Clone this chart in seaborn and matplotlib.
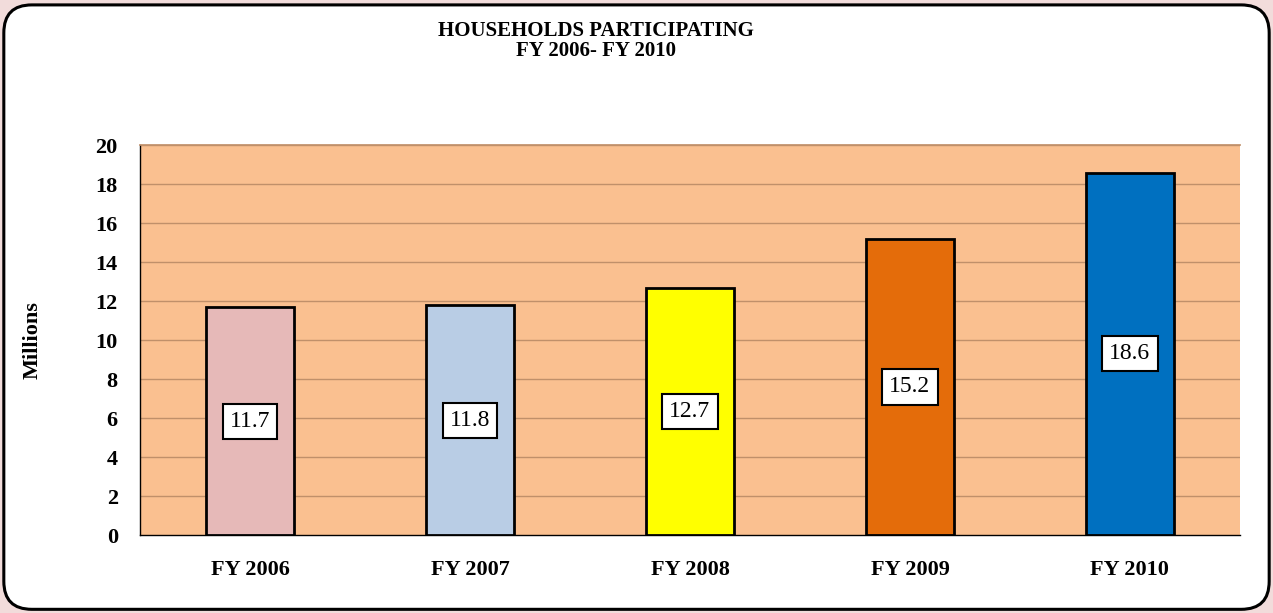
import matplotlib
matplotlib.use("Agg")
import matplotlib.pyplot as plt
import seaborn as sns
import pandas as pd
import numpy as np
from matplotlib.patches import FancyBboxPatch

categories = ["FY 2006", "FY 2007", "FY 2008", "FY 2009", "FY 2010"]
values = [11.7, 11.8, 12.7, 15.2, 18.6]
bar_colors = ["#e6b9b8", "#b9cde5", "#ffff00", "#e46c0a", "#0070c0"]
yticks = [0, 2, 4, 6, 8, 10, 12, 14, 16, 18, 20]

sns.set_theme(style="white")
plt.rcParams['font.family'] = ['Liberation Serif', 'DejaVu Serif']
plt.rcParams['text.color'] = 'black'
plt.rcParams['xtick.labelcolor'] = 'black'
plt.rcParams['ytick.labelcolor'] = 'black'
plt.rcParams['axes.labelcolor'] = 'black'

fig = plt.figure(figsize=(12.73, 6.13), dpi=100)
fig.patch.set_facecolor("#f2dcdb")
box = FancyBboxPatch((0.003, 0.006), 0.994, 0.986,
                     boxstyle="round,pad=0,rounding_size=0.022",
                     transform=fig.transFigure, facecolor="white",
                     edgecolor="black", linewidth=2.2, mutation_aspect=1273/613,
                     zorder=-10)
fig.add_artist(box)

ax = fig.add_axes([0.110, 0.127, 0.864, 0.636])
ax.set_zorder(5)
ax.set_facecolor("#fac090")

df = pd.DataFrame({"cat": categories, "val": values})
sns.barplot(data=df, x="cat", y="val", hue="cat", palette=bar_colors,
            saturation=1, width=0.4, edgecolor="black", linewidth=2,
            legend=False, ax=ax, zorder=3)

ax.set_ylim(0, 20)
ax.set_xlim(-0.5, 4.5)
ax.set_yticks(yticks)
ax.set_yticklabels([str(t) for t in yticks], fontsize=16, fontweight="bold")
ax.set_xticks(range(len(categories)))
ax.set_xticklabels(categories, fontsize=16, fontweight="bold")
ax.set_xticks(np.arange(-0.5, 5, 1), minor=True)
ax.tick_params(axis="x", which="major", length=0, pad=18)
ax.tick_params(axis="x", which="minor", length=6, color="#b0b0b0", width=1)
ax.tick_params(axis="y", which="major", length=7, color="#b0b0b0", width=1, pad=9)
ax.set_xlabel("")
ax.set_ylabel("Millions", fontsize=16, fontweight="bold", labelpad=38)

for y in yticks[1:]:
    ax.axhline(y, color="#c0906a", linewidth=1, zorder=1)

ax.spines["right"].set_visible(False)
ax.spines["top"].set_color("#c0906a")
ax.spines["left"].set_color("black")
ax.spines["left"].set_linewidth(1)
ax.spines["bottom"].set_color("black")
ax.spines["bottom"].set_linewidth(1)

for i, v in enumerate(values):
    ax.text(i, v / 2, f"{v}", ha="center", va="center", fontsize=17, zorder=5,
            bbox=dict(boxstyle="square,pad=0.3", facecolor="white",
                      edgecolor="black", linewidth=1.5))

fig.text(0.468, 0.965, "HOUSEHOLDS PARTICIPATING\nFY 2006- FY 2010",
         ha="center", va="top", fontsize=15, fontweight="bold", linespacing=1.0)

fig.savefig("out.png", dpi=100, facecolor=fig.get_facecolor())
